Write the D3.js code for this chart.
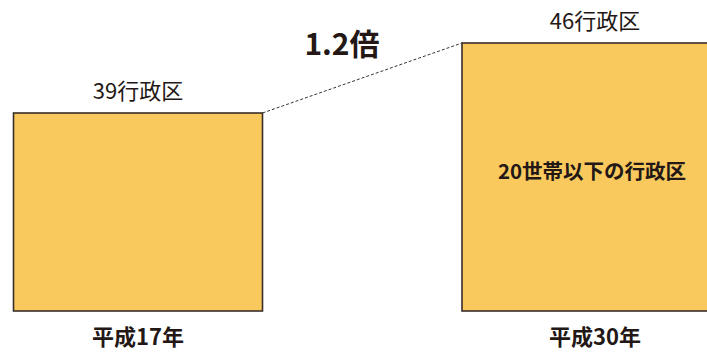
<!DOCTYPE html>
<html>
<head>
<meta charset="utf-8">
<style>
	body { margin: 0; background: #fff; }
	svg text { font-family: "Noto Sans CJK JP", sans-serif; fill: #231815; }
</style>
</head>
<body>
<div id="chart"></div>
<script src="https://d3js.org/d3.v7.min.js"></script>
<script>
	// data
	var years = ["平成17年", "平成30年"];
	var counts = [39, 46];
	var countLabels = ["39行政区", "46行政区"];
	var ratioLabel = "1.2倍";
	var innerLabel = "20世帯以下の行政区";

	var width = 707, height = 352, base = 311;

	var svg = d3.select("#chart").append("svg")
		.attr("width", width)
		.attr("height", height);

	//centre of each box
	var x = d3.scalePoint().domain(years).range([138, 595]);
	//box size from value
	var w = d3.scaleLinear().domain([39, 46]).range([249, 266]);
	var h = d3.scaleLinear().domain([39, 46]).range([198, 268]);

	var data = years.map(function(d, i){
		return {year: d, count: counts[i], label: countLabels[i]};
	});

	data.forEach(function(d){
		d.x0 = x(d.year) - w(d.count) / 2;
		d.x1 = x(d.year) + w(d.count) / 2;
		d.y0 = base - h(d.count);
	});

	// dotted connector
	svg.append("line")
		.attr("x1", data[0].x1).attr("y1", data[0].y0)
		.attr("x2", data[1].x0).attr("y2", data[1].y0)
		.attr("stroke", "#3a3230")
		.attr("stroke-width", 1)
		.attr("stroke-dasharray", "3,2");

	svg.selectAll(".box")
		.data(data)
		.enter()
		.append("rect")
		.attr("class", "box")
		.attr("x", function(d){ return d.x0; })
		.attr("y", function(d){ return d.y0; })
		.attr("width", function(d){ return w(d.count); })
		.attr("height", function(d){ return h(d.count); })
		.attr("fill", "#F9C95E")
		.attr("stroke", "#3a2e2a")
		.attr("stroke-width", 1.6);

	svg.selectAll(".count")
		.data(data)
		.enter()
		.append("text")
		.attr("class", "count")
		.attr("x", function(d){ return x(d.year); })
		.attr("y", function(d){ return d.y0 - 14; })
		.attr("text-anchor", "middle")
		.attr("font-size", "22px")
		.text(function(d){ return d.label; });

	svg.selectAll(".year")
		.data(data)
		.enter()
		.append("text")
		.attr("class", "year")
		.attr("x", function(d){ return x(d.year); })
		.attr("y", 345)
		.attr("text-anchor", "middle")
		.attr("font-size", "22px")
		.attr("font-weight", "bold")
		.text(function(d){ return d.year; });

	svg.append("text")
		.attr("x", 342)
		.attr("y", 55)
		.attr("text-anchor", "middle")
		.attr("font-size", "30px")
		.attr("font-weight", "bold")
		.text(ratioLabel);

	svg.append("text")
		.attr("x", x(years[1]) - 3)
		.attr("y", 179)
		.attr("text-anchor", "middle")
		.attr("font-size", "20.5px")
		.attr("font-weight", "bold")
		.text(innerLabel);
</script>
</body>
</html>
